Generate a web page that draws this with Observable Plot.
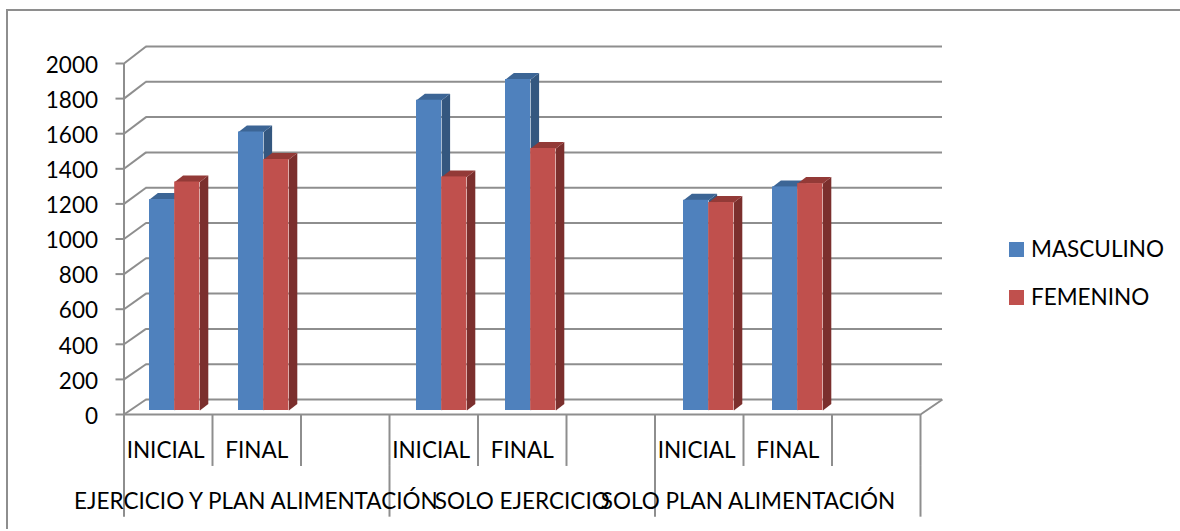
<!DOCTYPE html>
<html lang="es">
<head>
<meta charset="utf-8">
<script src="https://cdn.jsdelivr.net/npm/d3@7"></script>
<script src="https://cdn.jsdelivr.net/npm/@observablehq/plot@0.6"></script>
<style>
  html, body { margin: 0; background: #fff; }
  #chart { position: relative; width: 1180px; height: 531px; overflow: hidden; font-family: Lato, sans-serif; color: #000; }
  #chart svg { position: absolute; left: 0; top: 0; background: transparent; }
  #frame { position: absolute; left: 6px; top: 9px; right: -4px; bottom: 2px; border-top: 2px solid #8e8e8e; border-left: 2px solid #8e8e8e; }
  #legend { position: absolute; left: 1009px; top: 225px; font-size: 22.5px; line-height: 48px; }
  #legend div { display: flex; align-items: center; }
  #legend i { display: block; width: 15px; height: 15px; margin-right: 7px; }
</style>
</head>
<body>
<div id="chart"><div id="frame"></div></div>
<script>
const groups = ["EJERCICIO Y PLAN ALIMENTACIÓN", "SOLO EJERCICIO", "SOLO PLAN ALIMENTACIÓN"];
const groupCentres = [1.49, 4.5, 7.05];
const phases = ["INICIAL", "FINAL"];
const phaseCentres = [0.47, 0.5];
const slots = [0, 1, 3, 4, 6, 7];
const masculino = [1202, 1587, 1768, 1886, 1198, 1274];
const femenino = [1302, 1430, 1331, 1493, 1185, 1293];
const yTicks = [0, 200, 400, 600, 800, 1000, 1200, 1400, 1600, 1800, 2000];
const slotEdges = [0, 1, 2, 3, 4, 5, 6, 7, 8, 9];
const groupEdges = [0, 3, 6, 9];

const series = [
  {name: "MASCULINO", values: masculino, front: "#4f81bd", top: "#3c6595", side: "#34577f", shift: 0},
  {name: "FEMENINO", values: femenino, front: "#c0504d", top: "#933a37", side: "#7b2f2d", shift: 1}
];

const grey = "#8e8e8e";
const slotPx = 88.5;           // pixels per category slot
const unitPx = 351 / 2000;     // pixels per unit of value
const wallX = 22 / slotPx;     // floor depth, in slot units
const wallBase = 15 / unitPx;  // floor depth, in value units
const wallStretch = 353 / 351; // the back wall reads slightly taller than the front axis
const barX = 8.4 / slotPx;     // bar depth
const barY = 6.5 / unitPx;
const barW = 25.2 / slotPx;
const barStart = 25.5 / slotPx;
const barPitch = 89 / slotPx;  // bars advance a little faster than the axis slots

const wallLevel = d => d * wallStretch + wallBase;

const rows = series.flatMap(s => s.values.map((v, i) => {
  const x1 = barStart + slots[i] * barPitch + s.shift * barW;
  return {...s, value: v, key: s.name + i, x1, x2: x1 + barW};
}));

const polygon = (r, face, pts) => pts.map(([x, y]) => ({key: r.key + face, name: r.name, x, y, color: r[face]}));
const topFace = r => polygon(r, "top", [
  [r.x1, r.value], [r.x1 + barX, r.value + barY], [r.x2 + barX, r.value + barY], [r.x2, r.value]
]);
const sideFace = r => polygon(r, "side", [
  [r.x2, r.value], [r.x2 + barX, r.value + barY], [r.x2 + barX, barY], [r.x2, 0]
]);

// One series at a time, so the later bars overlap the depth of the earlier ones.
const barMarks = s => {
  const own = rows.filter(r => r.name === s.name);
  return [
    Plot.line(own.flatMap(sideFace), {x: "x", y: "y", z: "key", fill: "color", stroke: null, curve: "linear-closed", dy: -4}),
    Plot.line(own.flatMap(topFace), {x: "x", y: "y", z: "key", fill: "color", stroke: null, curve: "linear-closed", dy: -4}),
    Plot.rect(own, {x1: "x1", x2: "x2", y1: () => 0, y2: "value", fill: "front", dy: -4})
  ];
};

const slotLabels = groups.flatMap((_, g) => phases.map((p, i) => ({label: p, x: g * 3 + i + phaseCentres[i]})));
const line = {stroke: grey, strokeWidth: 2};

const plot = Plot.plot({
  width: 1180,
  height: 531,
  marginLeft: 123.5,
  marginRight: 260,
  marginTop: 63,
  marginBottom: 117,
  style: {fontFamily: "Lato, sans-serif", background: "transparent"},
  x: {type: "linear", domain: [0, 9], axis: null},
  y: {type: "linear", domain: [0, 2000], axis: null},
  color: {type: "identity"},
  marks: [
    // back wall and the side wall's slanted gridlines
    Plot.ruleY(yTicks, {y: wallLevel, x1: () => wallX, x2: () => 9 + wallX, ...line}),
    Plot.link(yTicks, {x1: () => 0, y1: d => d, x2: () => wallX, y2: wallLevel, ...line}),
    // far edge of the floor
    Plot.link([9], {x1: d => d, y1: () => 0, x2: d => d + wallX, y2: () => wallLevel(0), ...line}),
    ...series.flatMap(barMarks),
    // front axes
    Plot.ruleX([0], {y1: () => 0, y2: () => 2000, ...line}),
    Plot.ruleY([0], {x1: () => 0, x2: () => 9, ...line}),
    Plot.axisY(yTicks, {tickSize: 8, tickPadding: 18, tickFormat: d => String(d), stroke: grey, strokeWidth: 2, fill: "#000", fontSize: 22.5, label: null, textStroke: "none"}),
    // two-level category separators reaching below the floor
    Plot.ruleX(slotEdges, {y1: () => 0, y2: () => -296, ...line}),
    Plot.ruleX(groupEdges, {y1: () => -296, y2: () => -585, ...line}),
    Plot.text(slotLabels, {x: "x", y: () => 0, text: "label", dy: 36, fontSize: 22.5, fill: "#000"}),
    Plot.text(groups, {x: (d, i) => groupCentres[i], y: () => 0, text: d => d, dy: 87, fontSize: 22.5, fill: "#000"})
  ]
});
document.getElementById("chart").append(plot);

// The axis tick labels sit a touch lower than the gridlines they name.
d3.select(plot).selectAll('g[aria-label="y-axis tick label"] text').attr("dy", 2);

const legend = d3.select("#chart").append("div").attr("id", "legend");
const entry = legend.selectAll("div").data(series).join("div");
entry.append("i").style("background", d => d.front);
entry.append("span").text(d => d.name);
</script>
</body>
</html>
